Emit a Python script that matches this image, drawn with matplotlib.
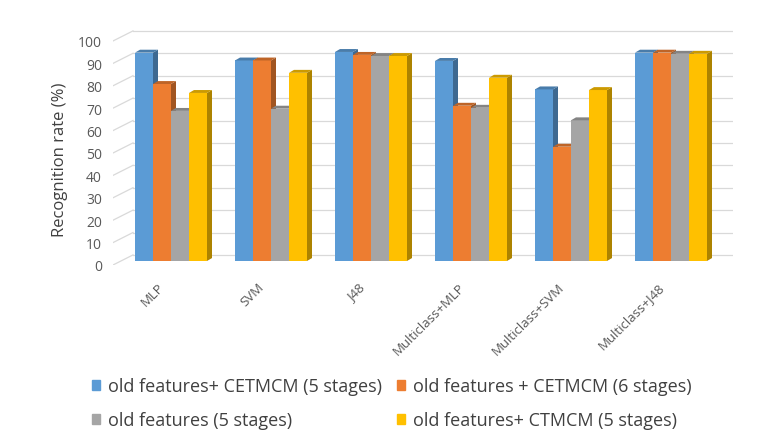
import matplotlib.pyplot as plt
import numpy as np
from matplotlib.patches import Polygon, Patch

plt.rcParams['font.family'] = ['Open Sans', 'DejaVu Sans']

# recognition rates per classifier
categories = ["MLP", "SVM", "J48", "Multiclass+MLP", "Multiclass+SVM", "Multiclass+J48"]
cetmcm_5 = [93, 89.5, 93.3, 89.3, 76.6, 93]
cetmcm_6 = [79, 89.5, 92, 69.3, 51, 93]
old_5 = [67, 68, 91.5, 68.4, 62.8, 92.5]
ctmcm_5 = [75, 84, 91.5, 81.8, 76.3, 92.5]
series_names = ["old features+ CETMCM (5 stages)", "old features + CETMCM (6 stages)",
                "old features (5 stages)", "old features+ CTMCM (5 stages)"]
yticks = np.arange(0, 101, 10)

colors = ["#5B9BD5", "#ED7D31", "#A5A5A5", "#FFC000"]

fig = plt.figure(figsize=(7.57, 4.39), dpi=100)
ax = fig.add_axes([113 / 757, 1 - 266 / 439, 620 / 757, 235 / 439])
ax.set_xlim(-0.59, 5.61)
ax.set_ylim(-1.8, 103.1)

# pseudo 3d: depth offsets for bar sides and the back wall
dx, dy = 0.05, 1.3
front_drop = 1.8
back_rise = 2.7
back_left = -0.39
grid_c = "#d9d9d9"
for v in yticks:
    ax.plot([-0.59, back_left], [v - front_drop, v + back_rise], color=grid_c, lw=0.9, zorder=0)
    ax.plot([back_left, 5.61], [v + back_rise, v + back_rise], color=grid_c, lw=0.9, zorder=0)


def shade(c, f):
    c = np.array(plt.matplotlib.colors.to_rgb(c))
    return tuple(c * f)


w = 0.18
left = -0.37
data = [cetmcm_5, cetmcm_6, old_5, ctmcm_5]
z = 1
for i in range(len(categories)):
    for j, vals in enumerate(data):
        v = vals[i]
        x0 = i + left + j * w
        ax.bar(x0, v, width=w, align='edge', color=colors[j], zorder=z)
        side = [(x0 + w, 0), (x0 + w + dx, dy), (x0 + w + dx, v + dy), (x0 + w, v)]
        top = [(x0, v), (x0 + dx, v + dy), (x0 + w + dx, v + dy), (x0 + w, v)]
        ax.add_patch(Polygon(side, closed=True, color=shade(colors[j], 0.68), zorder=z, lw=0))
        ax.add_patch(Polygon(top, closed=True, color=shade(colors[j], 0.8), zorder=z, lw=0))
        z += 1

for s in ax.spines.values():
    s.set_visible(False)

ax.set_yticks(yticks - front_drop, [str(t) for t in yticks])
ax.set_xticks(np.arange(len(categories)) - 0.05, categories, rotation=45, ha='right', va='top')
ax.tick_params(axis='y', length=0, pad=8, labelsize=10, labelcolor='#595959')
ax.tick_params(axis='x', length=0, pad=11, labelsize=9.5, labelcolor='#595959')
ax.set_ylabel("Recognition rate (%)", fontsize=12, color='#404040')
ax.yaxis.set_label_coords(-0.072, 0.45)

handles = [Patch(color=c) for c in colors]
order = [0, 2, 1, 3]
fig.legend([handles[k] for k in order], [series_names[k] for k in order],
           ncol=2, loc='upper left', bbox_to_anchor=(76 / 757, 1 - 362 / 439),
           frameon=False, fontsize=13, handlelength=0.45, handleheight=0.45,
           handletextpad=0.45, columnspacing=0.8, labelspacing=0.9, labelcolor='#404040')

fig.savefig("out.png", dpi=100)
